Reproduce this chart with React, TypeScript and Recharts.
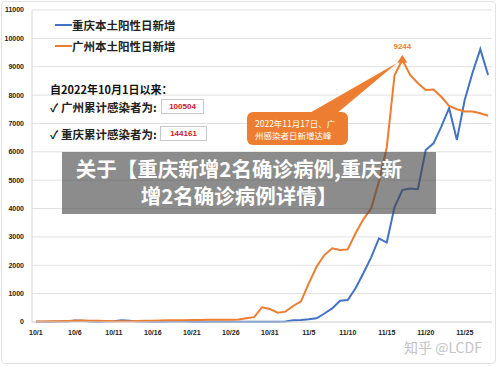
import React from "react";
import { LineChart, Line, XAxis, YAxis, CartesianGrid } from "recharts";

const dates = [
  "10/1","10/2","10/3","10/4","10/5","10/6","10/7","10/8","10/9","10/10",
  "10/11","10/12","10/13","10/14","10/15","10/16","10/17","10/18","10/19","10/20",
  "10/21","10/22","10/23","10/24","10/25","10/26","10/27","10/28","10/29","10/30",
  "10/31","11/1","11/2","11/3","11/4","11/5","11/6","11/7","11/8","11/9",
  "11/10","11/11","11/12","11/13","11/14","11/15","11/16","11/17","11/18","11/19",
  "11/20","11/21","11/22","11/23","11/24","11/25","11/26","11/27","11/28",
];

const chongqing = [
  5, 5, 10, 15, 20, 50, 40, 20, 10, 15,
  30, 60, 40, 20, 15, 10, 10, 15, 20, 15,
  10, 10, 10, 10, 10, 10, 10, 10, 10, 10,
  10, 10, 20, 60, 70, 95, 130, 300, 480, 750,
  775, 1190, 1720, 2280, 2950, 2800, 4050, 4650, 4710, 4680,
  6060, 6300, 6890, 7540, 6420, 7830, 8790, 9620, 8710,
];

const guangzhou = [
  20, 20, 25, 30, 35, 45, 50, 45, 40, 35,
  30, 30, 30, 35, 40, 45, 55, 60, 60, 65,
  70, 70, 75, 75, 80, 80, 90, 130, 170, 520,
  460, 330, 365, 565, 730, 1360, 1950, 2360, 2600, 2540,
  2560, 3130, 3620, 4010, 4950, 6150, 8700, 9244, 8710, 8420,
  8180, 8200, 7940, 7620, 7500, 7420, 7420, 7360, 7270,
];

const yTicks = [0, 1000, 2000, 3000, 4000, 5000, 6000, 7000, 8000, 9000, 10000, 11000];
const xTickIndices = [0, 5, 10, 15, 20, 25, 30, 35, 40, 45, 50, 55];

const seriesNames = ["重庆本土阳性日新增", "广州本土阳性日新增"];
const totalsLabel = "自2022年10月1日以来：";
const totalsNames = ["广州累计感染者为:", "重庆累计感染者为:"];
const totalsValues = ["100504", "144161"];
const calloutLines = ["2022年11月17日、广", "州感染者日新增达峰"];
const titleLines = ["关于【重庆新增2名确诊病例,重庆新", "增2名确诊病例详情】"];
const watermark = "知乎 @LCDF";

const data = dates.map((d, i) => ({ idx: i, date: d, cq: chongqing[i], gz: guangzhou[i] }));

const BLUE = "#4472C4";
const ORANGE = "#ED7D31";
const CJK = "'Noto Sans CJK SC', 'Noto Sans', sans-serif";
const LAT = "'Liberation Sans', Arial, sans-serif";

const peakIndex = guangzhou.indexOf(Math.max(...guangzhou));

const PeakDot = (props: any) => {
  const { cx, cy, index } = props;
  if (index !== peakIndex || cx == null || cy == null) return <g key={`d${index}`} />;
  return (
    <g key={`d${index}`}>
      <polygon
        points={`${cx - 94},${cy + 54} ${cx - 66},${cy + 54} ${cx - 5},${cy + 3}`}
        fill={ORANGE}
      />
      <polygon points={`${cx},${cy - 5} ${cx - 5},${cy + 3} ${cx + 5},${cy + 3}`} fill={ORANGE} />
      <text
        x={cx}
        y={cy - 11}
        textAnchor="middle"
        fontSize={8}
        fontWeight={700}
        fill={ORANGE}
        fontFamily={LAT}
      >
        {guangzhou[peakIndex]}
      </text>
    </g>
  );
};

export default function App() {
  return (
    <div
      style={{
        position: "absolute",
        left: 0,
        top: 0,
        width: 500,
        height: 367,
        background: "#ffffff",
        overflow: "hidden",
        fontFamily: CJK,
      }}
    >
      <div
        style={{
          position: "absolute",
          left: 1,
          top: 1,
          width: 495,
          height: 363,
          border: "1px solid #e2e2e2",
          borderRadius: 4,
          boxSizing: "border-box",
        }}
      />
      <div style={{ position: "absolute", left: 0, top: 0 }}>
        <LineChart
          width={500}
          height={367}
          data={data}
          margin={{ top: 10, right: 8, bottom: 15, left: 0 }}
        >
          <CartesianGrid vertical={false} stroke="#e1e1e1" strokeWidth={1} />
          <XAxis
            dataKey="idx"
            type="number"
            domain={[-0.5, dates.length - 0.5]}
            ticks={xTickIndices}
            tickFormatter={(v: number) => dates[v]}
            interval={0}
            height={30}
            axisLine={{ stroke: "#d9d9d9" }}
            tickLine={false}
            tick={{ fontSize: 7, fontWeight: 700, fill: "#222", fontFamily: LAT }}
          />
          <YAxis
            width={32}
            domain={[0, 11000]}
            ticks={yTicks}
            interval={0}
            axisLine={{ stroke: "#d9d9d9" }}
            tickLine={false}
            tick={{ fontSize: 7, fontWeight: 700, fill: "#222", fontFamily: LAT }}
          />
          <Line
            type="linear"
            dataKey="cq"
            stroke={BLUE}
            strokeWidth={2}
            dot={false}
            isAnimationActive={false}
          />
          <Line
            type="linear"
            dataKey="gz"
            stroke={ORANGE}
            strokeWidth={2}
            dot={PeakDot}
            activeDot={false}
            isAnimationActive={false}
          />
        </LineChart>
      </div>

      {/* Legend */}
      <div style={{ position: "absolute", left: 55, top: 17, display: "flex", alignItems: "center" }}>
        <div style={{ width: 17, height: 2, background: BLUE }} />
        <span style={{ fontSize: 11.5, fontWeight: 700, color: "#222", lineHeight: "16px" }}>{seriesNames[0]}</span>
      </div>
      <div style={{ position: "absolute", left: 55, top: 38, display: "flex", alignItems: "center" }}>
        <div style={{ width: 17, height: 2, background: ORANGE }} />
        <span style={{ fontSize: 11.5, fontWeight: 700, color: "#222", lineHeight: "16px" }}>{seriesNames[1]}</span>
      </div>

      {/* Totals */}
      <div style={{ position: "absolute", left: 50, top: 81, fontSize: 11, fontWeight: 700, color: "#111", lineHeight: "16px", whiteSpace: "nowrap" }}>
        {totalsLabel}
      </div>
      <div style={{ position: "absolute", left: 50, top: 99, fontSize: 11.5, fontWeight: 700, color: "#222", lineHeight: "16px", whiteSpace: "nowrap" }}>
        ✓ {totalsNames[0]}
      </div>
      <div
        style={{
          position: "absolute", left: 161, top: 99, width: 43, height: 15, border: "1px solid #c8c8c8",
          boxSizing: "border-box", display: "flex", alignItems: "center", justifyContent: "center",
          fontSize: 8, fontWeight: 700, color: "#d0161b", fontFamily: LAT, background: "#fff",
        }}
      >
        {totalsValues[0]}
      </div>
      <div style={{ position: "absolute", left: 50, top: 126, fontSize: 11.5, fontWeight: 700, color: "#222", lineHeight: "16px", whiteSpace: "nowrap" }}>
        ✓ {totalsNames[1]}
      </div>
      <div
        style={{
          position: "absolute", left: 160, top: 126, width: 47, height: 15, border: "1px solid #c8c8c8",
          boxSizing: "border-box", display: "flex", alignItems: "center", justifyContent: "center",
          fontSize: 8, fontWeight: 700, color: "#d0161b", fontFamily: LAT, background: "#fff",
        }}
      >
        {totalsValues[1]}
      </div>

      {/* Callout */}
      <div
        style={{
          position: "absolute", left: 247, top: 112, width: 101, height: 33, background: ORANGE,
          borderRadius: 6, color: "#fff", fontSize: 8.5, lineHeight: "12px", boxSizing: "border-box",
          padding: "4.5px 0 0 8px", whiteSpace: "nowrap",
        }}
      >
        <div>{calloutLines[0]}</div>
        <div>{calloutLines[1]}</div>
      </div>

      {/* Title banner */}
      <div
        style={{
          position: "absolute", left: 62, top: 152, width: 374, height: 62,
          background: "rgba(70,70,70,0.62)",
        }}
      />
      <div
        style={{
          position: "absolute", left: 62, top: 155, width: 354, textAlign: "center",
          color: "#fff", fontSize: 20.5, fontWeight: 700, lineHeight: "27px", whiteSpace: "nowrap",
        }}
      >
        <div>{titleLines[0]}</div>
        <div>{titleLines[1]}</div>
      </div>

      {/* Watermark */}
      <div
        style={{
          position: "absolute", left: 404, top: 338, fontSize: 14, color: "#c4c4c4",
          lineHeight: "18px", whiteSpace: "nowrap",
        }}
      >
        {watermark}
      </div>
    </div>
  );
}
